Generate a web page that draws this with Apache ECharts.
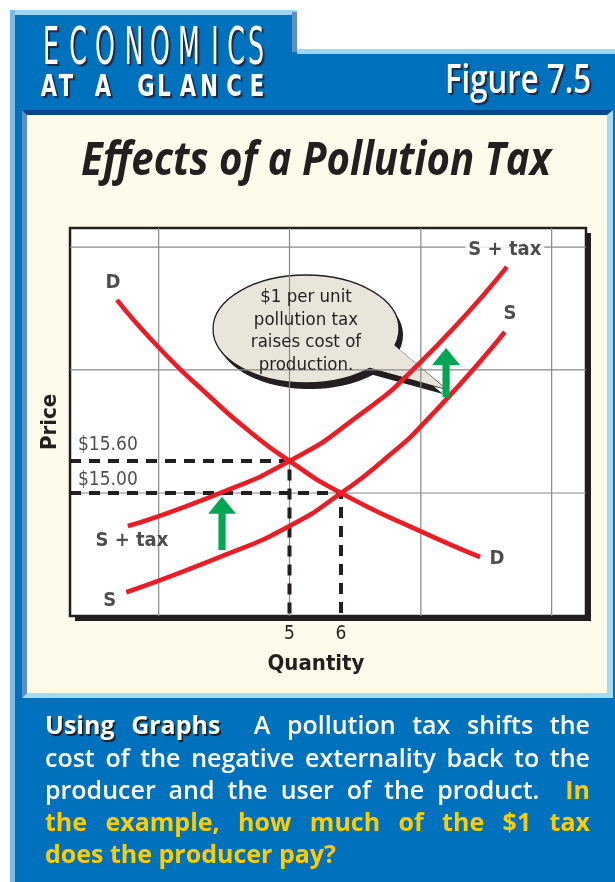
<!DOCTYPE html>
<html><head><meta charset="utf-8">
<script src="https://cdn.jsdelivr.net/npm/echarts@6/dist/echarts.min.js"></script>
<style>html,body{margin:0;padding:0;background:#fff}#c{width:615px;height:882px}</style>
</head><body><div id="c"></div>
<script>
// ---------- chart values ----------
const X_MIN = 0.738, X_MAX = 10.757;      // quantity axis range
const Y_MIN = 12.694, Y_MAX = 19.969;     // price axis range
const gridQ = [2.46, 5.0, 7.55, 10.09];    // vertical grid lines
const gridP = [15.0, 17.31, 19.61];        // horizontal grid lines
const quantityTicks = [5, 6];
const priceTicks = [15.60, 15.00];
const demandQ = [1.65, 2.49, 3.46, 4.23, 5.0, 6.0, 7.55, 8.70];
const demandP = [18.62, 17.70, 16.80, 16.15, 15.6, 15.0, 14.28, 13.80];
const supplyQ = [1.83, 3.75, 5.0, 6.0, 6.83, 7.67, 9.18];
const supplyP = [13.14, 13.84, 14.38, 15.0, 15.62, 16.37, 18.02];
const taxQ = [1.86, 3.65, 5.0, 6.23, 7.53, 9.22];
const taxP = [14.38, 15.0, 15.6, 16.37, 17.44, 19.24];
const eqQ = [5, 6];
const eqP = [15.6, 15.0];
const arrowQ = [3.69, 8.04];
const arrowFrom = [13.93, 16.80];
const arrowTo = [14.93, 17.72];
const curveLabels = ['D', 'D', 'S + tax', 'S', 'S + tax', 'S'];
const curveLabelQ = [1.57, 9.03, 9.18, 9.28, 1.94, 1.51];
const curveLabelP = [18.94, 13.76, 19.56, 18.36, 14.10, 12.97];

// ---------- styles ----------
const F_COND = '"DejaVu Sans Condensed", "Liberation Sans Narrow", sans-serif';
const F_BODY = '"Open Sans", "Noto Sans", sans-serif';
const INK = '#231f20', RED = '#ed1c24', GREEN = '#00a651';
const BLUE = '#0071bc', CREAM = '#fffbea';
const G = {left: 70, top: 228, width: 516, height: 388};

const mctx = document.createElement('canvas').getContext('2d');
function tw(text, weight, size, family, style) {
  mctx.font = (style || 'normal') + ' ' + weight + ' ' + size + 'px ' + family;
  return mctx.measureText(text).width;
}
const zip = (a, b) => a.map((v, i) => [v, b[i]]);

const graphics = [];
// outer blue frame
graphics.push({type: 'polygon', z: -20, silent: true,
  shape: {points: [[10,10],[297,10],[297,49],[615,49],[615,882],[10,882]]},
  style: {fill: BLUE}});
graphics.push({type: 'rect', z: -19, shape: {x: 10, y: 10, width: 287, height: 5}, style: {fill: '#9ad6f6'}});
graphics.push({type: 'rect', z: -19, shape: {x: 10, y: 10, width: 5, height: 872}, style: {fill: '#7cbbe8'}});
graphics.push({type: 'rect', z: -19, shape: {x: 292, y: 12, width: 5, height: 40}, style: {fill: '#5f8fc2'}});
graphics.push({type: 'rect', z: -19, shape: {x: 297, y: 49, width: 318, height: 5}, style: {fill: '#9ad6f6'}});
// cream panel with bevel
graphics.push({type: 'polygon', z: -18, shape: {points: [[22,110],[613,110],[607,115],[27,115],[27,693],[22,698]]}, style: {fill: '#0b4784'}});
graphics.push({type: 'polygon', z: -18, shape: {points: [[22,110],[27,115],[27,693],[22,698]]}, style: {fill: '#5d8ec6'}});
graphics.push({type: 'polygon', z: -18, shape: {points: [[613,110],[613,698],[22,698],[27,693],[607,693],[607,115]]}, style: {fill: '#a3dbf7'}});
graphics.push({type: 'rect', z: -17, shape: {x: 27, y: 115, width: 580, height: 578}, style: {fill: CREAM}});
// plot shadow + white plot
graphics.push({type: 'rect', z: -16, shape: {x: G.left + 5, y: G.top + 5, width: G.width, height: G.height}, style: {fill: INK}});
graphics.push({type: 'rect', z: -15, shape: {x: G.left, y: G.top, width: G.width, height: G.height}, style: {fill: '#ffffff'}});

// header: ECONOMICS
const econ = 'ECONOMICS'.split('');
const econX = [51, 78, 105, 134, 160, 189, 215, 236, 256];
econ.forEach((ch, i) => graphics.push({type: 'text', z: 5, x: econX[i], y: 50, scaleX: 0.54,
  style: {text: ch, fontFamily: F_COND, fontSize: 52, fontWeight: 'normal', fill: '#fff',
    textAlign: 'center', textVerticalAlign: 'middle',
    textShadowColor: '#1c2a44', textShadowOffsetX: 2, textShadowOffsetY: 2, textShadowBlur: 1}}));
const glance = ['A','T','A','G','L','A','N','C','E'];
const glanceX = [49, 66, 103, 146, 164, 188, 209, 234, 257];
glance.forEach((ch, i) => graphics.push({type: 'text', z: 5, x: glanceX[i], y: 88, scaleX: 0.78,
  style: {text: ch, fontFamily: F_COND, fontSize: 30, fontWeight: 'bold', fill: '#fff',
    textAlign: 'center', textVerticalAlign: 'middle',
    textShadowColor: '#1c2a44', textShadowOffsetX: 2, textShadowOffsetY: 2, textShadowBlur: 1}}));
// Figure 7.5
(function () {
  const w = tw('Figure 7.5', 600, 40, F_BODY);
  graphics.push({type: 'text', z: 5, x: 445, y: 82, scaleX: 146 / w,
    style: {text: 'Figure 7.5', fontFamily: F_BODY, fontSize: 40, fontWeight: 600, fill: '#fff',
      textAlign: 'left', textVerticalAlign: 'middle',
      textShadowColor: '#1c2a44', textShadowOffsetX: 2, textShadowOffsetY: 2, textShadowBlur: 1}});
})();
// title
(function () {
  const t = 'Effects of a Pollution Tax';
  const w = tw(t, 'bold', 46, F_BODY, 'italic');
  graphics.push({type: 'text', z: 5, x: 81, y: 162, scaleX: 470 / w,
    style: {text: t, fontFamily: F_BODY, fontSize: 46, fontWeight: 'bold', fontStyle: 'italic', fill: INK,
      textAlign: 'left', textVerticalAlign: 'middle'}});
})();

// speech bubble
(function () {
  const cx = 306, cy = 329, rx = 93, ry = 54;
  const tail = [[393, 345], [446, 389], [369, 368]];
  const tailFill = [[388, 340], [446, 389], [364, 366], [360, 345]];
  const sh = (pts, dx, dy) => pts.map(p => [p[0] + dx, p[1] + dy]);
  graphics.push({type: 'ellipse', z: 1, shape: {cx: cx + 4, cy: cy + 6, rx: rx, ry: ry}, style: {fill: INK}});
  graphics.push({type: 'polygon', z: 1, shape: {points: sh(tail, -3, 5)}, style: {fill: INK}});
  graphics.push({type: 'polygon', z: 1, shape: {points: tail}, style: {fill: '#e9e5da', stroke: INK, lineWidth: 1.3}});
  graphics.push({type: 'ellipse', z: 1, shape: {cx: cx, cy: cy, rx: rx, ry: ry}, style: {fill: '#e9e5da', stroke: INK, lineWidth: 1.3}});
  graphics.push({type: 'polygon', z: 1, shape: {points: tailFill}, style: {fill: '#e9e5da'}});
  graphics.push({type: 'text', z: 2, x: cx, y: 331,
    style: {text: '$1 per unit\npollution tax\nraises cost of\nproduction.', fontFamily: F_COND, fontSize: 18.5,
      lineHeight: 22.5, fill: INK, textAlign: 'center', textVerticalAlign: 'middle'}});
})();

// body text (justified)
(function () {
  const xl = 45, xr = 590, size = 25;
  const styles = {
    h: {fontWeight: 700, fill: '#ffffff', textShadowColor: '#1a1a1a', textShadowOffsetX: 1.5, textShadowOffsetY: 1.5, textShadowBlur: 1},
    w: {fontWeight: 600, fill: '#ffffff'},
    q: {fontWeight: 700, fill: '#ffcc00'}
  };
  const body = [
    {y: 727, justify: true, segs: [['Using Graphs', 'h'], ['  A pollution tax shifts the', 'w']]},
    {y: 760, justify: true, segs: [['cost of the negative externality back to the', 'w']]},
    {y: 792, justify: true, segs: [['producer and the user of the product.', 'w'], ['  In', 'q']]},
    {y: 824, justify: true, segs: [['the example, how much of the $1 tax', 'q']]},
    {y: 856, justify: false, segs: [['does the producer pay?', 'q']]}
  ];
  body.forEach(line => {
    const toks = [];
    let pending = 0;
    line.segs.forEach(([txt, k]) => {
      txt.split(/( +)/).forEach(part => {
        if (!part) return;
        if (/^ +$/.test(part)) { pending += part.length; return; }
        toks.push({t: part, k: k, gap: toks.length ? pending : 0,
          w: tw(part, styles[k].fontWeight, size, F_BODY)});
        pending = 0;
      });
    });
    const sumW = toks.reduce((a, b) => a + b.w, 0);
    const gaps = toks.reduce((a, b) => a + b.gap, 0);
    const unit = line.justify ? (xr - xl - sumW) / gaps : tw(' ', 600, size, F_BODY);
    let x = xl;
    toks.forEach(tk => {
      x += tk.gap * unit;
      graphics.push({type: 'text', z: 5, x: x, y: line.y,
        style: Object.assign({text: tk.t, fontFamily: F_BODY, fontSize: size, textAlign: 'left', textVerticalAlign: 'middle'}, styles[tk.k])});
      x += tk.w;
    });
  });
})();

// ---------- chart ----------
const chart = echarts.init(document.getElementById('c'), null, {renderer: 'canvas'});
const dash = [11, 8];
const series = [
  {type: 'custom', z: 1, silent: true, data: gridQ.map(q => [q, Y_MIN]), encode: {x: 0, y: 1},
    renderItem: (p, api) => {
      const a = api.coord([api.value(0), Y_MIN]), b = api.coord([api.value(0), Y_MAX]);
      return {type: 'line', shape: {x1: a[0], y1: a[1], x2: b[0], y2: b[1]}, style: {stroke: '#8a8a8a', lineWidth: 1.2}};
    }},
  {type: 'custom', z: 1, silent: true, data: gridP.map(v => [X_MIN, v]), encode: {x: 0, y: 1},
    renderItem: (p, api) => {
      const a = api.coord([X_MIN, api.value(1)]), b = api.coord([X_MAX, api.value(1)]);
      return {type: 'line', shape: {x1: a[0], y1: a[1], x2: b[0], y2: b[1]}, style: {stroke: '#8a8a8a', lineWidth: 1.2}};
    }}
];
eqQ.forEach((q, i) => series.push({type: 'line', z: 2, silent: true, symbol: 'none',
  data: [[X_MIN, eqP[i]], [q, eqP[i]], [q, Y_MIN]],
  lineStyle: {color: INK, width: 4, type: dash, cap: 'butt'}}));
[[demandQ, demandP], [supplyQ, supplyP], [taxQ, taxP]].forEach(([q, p]) => series.push({
  type: 'line', z: 3, silent: true, symbol: 'none', smooth: 0.6,
  data: zip(q, p), lineStyle: {color: RED, width: 4.6, cap: 'butt'}}));
series.push({type: 'custom', z: 4, silent: true,
  data: arrowQ.map((q, i) => [q, arrowFrom[i], arrowTo[i]]), encode: {x: 0, y: [1, 2]},
  renderItem: (p, api) => {
    const b = api.coord([api.value(0), api.value(1)]), t = api.coord([api.value(0), api.value(2)]);
    const x = b[0], hw = 3.6, hh = 14, hl = 17;
    return {type: 'polygon', shape: {points: [[x - hw, b[1]], [x - hw, t[1] + hl], [x - hh, t[1] + hl], [x, t[1]],
      [x + hh, t[1] + hl], [x + hw, t[1] + hl], [x + hw, b[1]]]}, style: {fill: GREEN}};
  }});
series.push({type: 'scatter', z: 5, silent: true, symbolSize: 0,
  data: curveLabels.map((t, i) => ({name: t, value: [curveLabelQ[i], curveLabelP[i]],
    label: i === 2 ? {backgroundColor: '#fff', padding: [0, 3]} : {}})),
  label: {show: true, position: 'inside', formatter: p => p.name, color: INK,
    fontFamily: F_COND, fontWeight: 'bold', fontSize: 20}});
series.push({type: 'scatter', z: 5, silent: true, symbolSize: 0,
  data: priceTicks.map((v, i) => ({value: [X_MIN, v], label: {offset: [0, i === 0 ? -16 : -13]}})),
  label: {show: true, position: 'right', distance: 8, formatter: p => '$' + p.value[1].toFixed(2),
    color: INK, fontFamily: F_COND, fontSize: 19}});

chart.setOption({
  animation: false,
  backgroundColor: '#ffffff',
  grid: {left: G.left, top: G.top, width: G.width, height: G.height, show: true,
    borderColor: INK, borderWidth: 2.5, backgroundColor: 'transparent', containLabel: false},
  xAxis: {type: 'value', min: X_MIN, max: X_MAX,
    axisLine: {show: false}, axisTick: {show: false}, splitLine: {show: false},
    axisLabel: {customValues: quantityTicks, color: INK, fontFamily: F_COND, fontSize: 19, margin: 9},
    name: 'Quantity', nameLocation: 'middle', nameGap: 37,
    nameTextStyle: {color: INK, fontFamily: F_COND, fontWeight: 'bold', fontSize: 22, padding: [0, 24, 0, 0]}},
  yAxis: {type: 'value', min: Y_MIN, max: Y_MAX,
    axisLine: {show: false}, axisTick: {show: false}, splitLine: {show: false}, axisLabel: {show: false},
    name: 'Price', nameLocation: 'middle', nameGap: 9, nameRotate: 90,
    nameTextStyle: {color: INK, fontFamily: F_COND, fontWeight: 'bold', fontSize: 22}},
  graphic: {elements: graphics},
  series: series
});
</script></body></html>
